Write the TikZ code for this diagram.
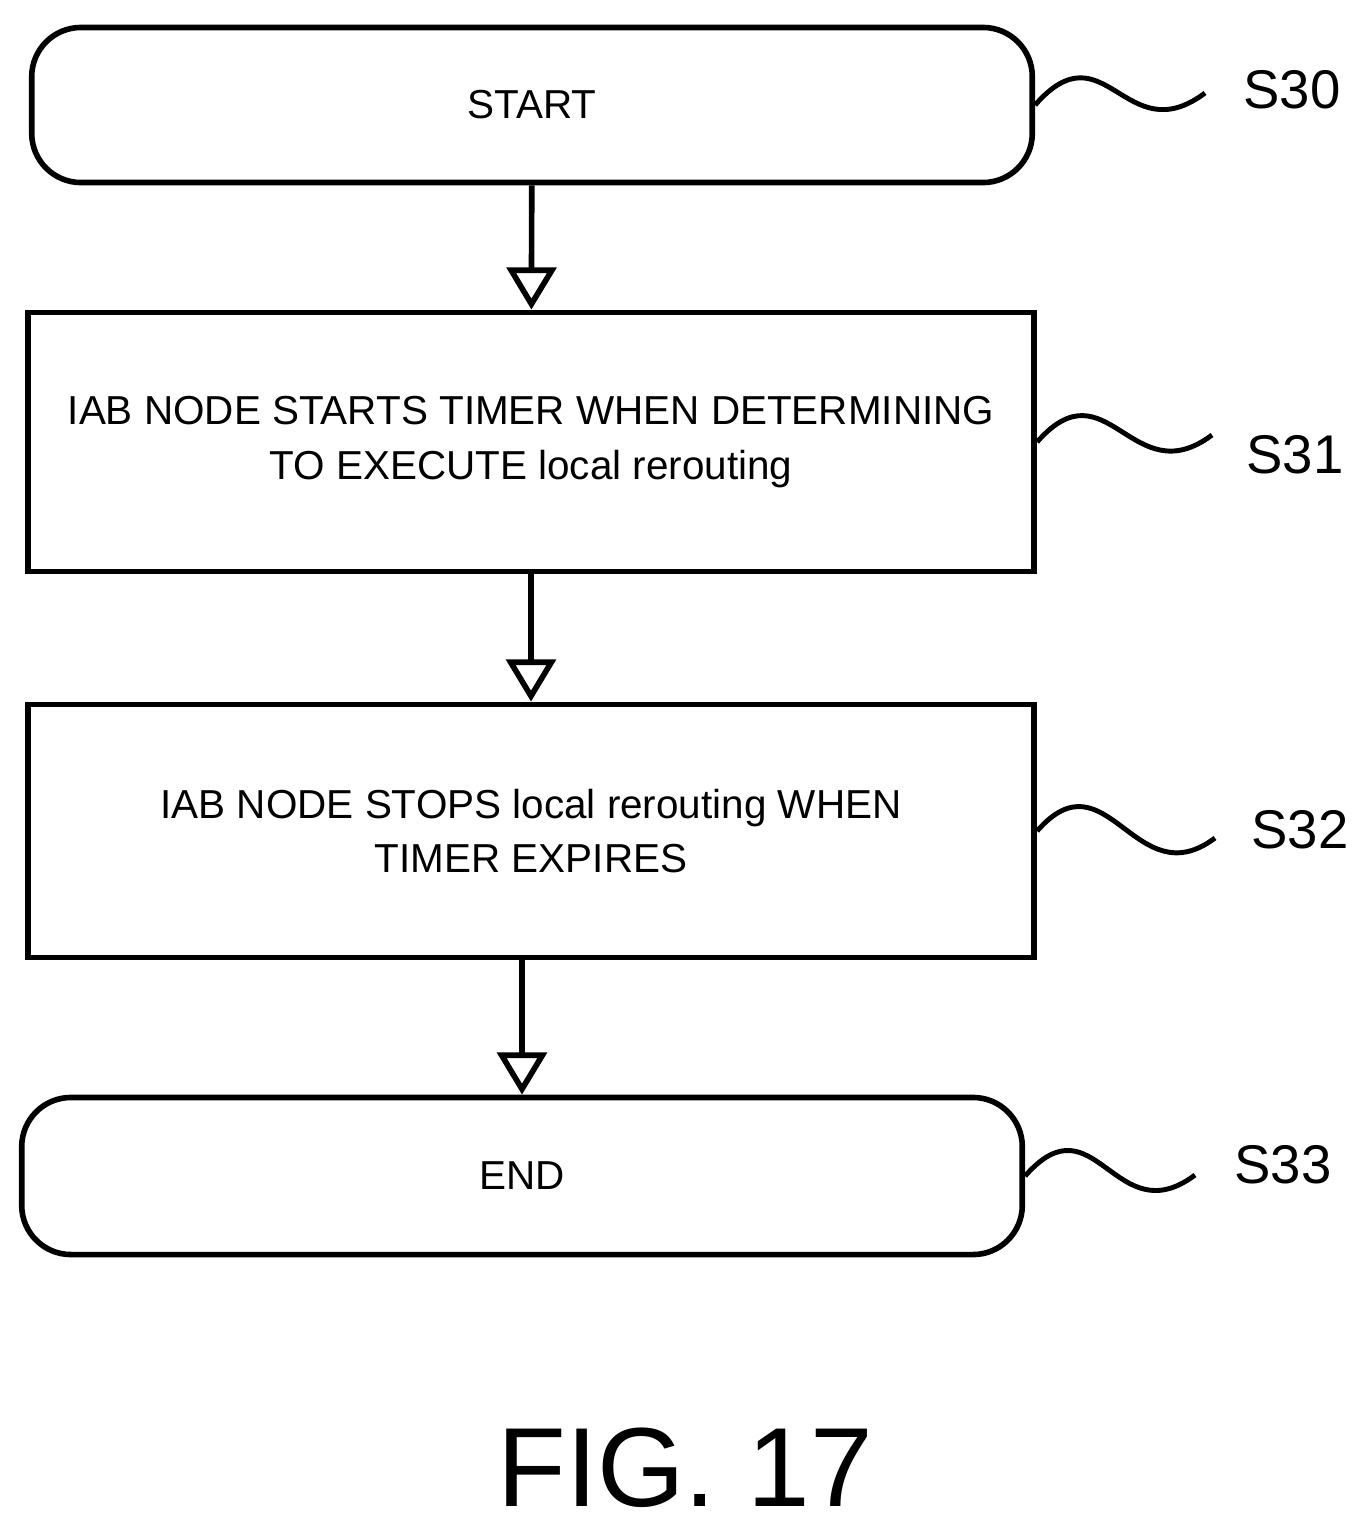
\documentclass[tikz,border=0pt]{standalone}
\usepackage{fontspec}
\setmainfont{Liberation Sans}
\usetikzlibrary{arrows.meta}
\begin{document}
\begin{tikzpicture}[x=0.01cm,y=-0.01cm,
    stepbox/.style={draw, line width=1.6pt, minimum width=10cm, inner sep=2pt, align=center, font=\fontsize{11.5}{15.6}\selectfont},
    flow/.style={draw, line width=1.6pt, -{Triangle[open,length=12pt,width=14pt]}},
    squiggle/.style={line width=1.4pt},
    steplabel/.style={font=\fontsize{15.5}{18}\selectfont}]
\useasboundingbox (0,0) rectangle (1370,1536);

        % Start and end boxes
        \node[stepbox, rounded corners=14pt, minimum height=1.55cm] (start) at (532,105) {START};
        \node[stepbox, rounded corners=14pt, minimum height=1.57cm] (end) at (522,1176) {END};

        % Process boxes
        \node[stepbox, minimum width=10.06cm, minimum height=2.59cm] (timer) at (531,442) {IAB NODE STARTS TIMER WHEN DETERMINING\\TO EXECUTE local rerouting};
        \node[stepbox, minimum width=10.06cm, minimum height=2.53cm] (stop) at (531,831) {IAB NODE STOPS local rerouting WHEN\\TIMER EXPIRES};

        % Arrows
        \draw[flow] (start) -- (timer);
        \draw[flow] (timer) -- (stop);
        \draw[flow] (stop.south -| end) -- (end);

        % Step labels
        \node[steplabel] (s30) at (1292,90) {S30};
        \node[steplabel] (s31) at (1295,455) {S31};
        \node[steplabel] (s32) at (1300,830) {S32};
        \node[steplabel] (s33) at (1283,1165) {S33};
        \draw[squiggle] (start.east) .. controls +(70,-80) and +(-80,60) .. (1205,93);
        \draw[squiggle] (timer.east) .. controls +(70,-80) and +(-80,60) .. (1212,435);
        \draw[squiggle] (stop.east) .. controls +(70,-80) and +(-80,60) .. (1215,838);
        \draw[squiggle] (end.east) .. controls +(70,-80) and +(-80,60) .. (1195,1175);

        % Figure title
        \node[font=\fontsize{32}{36}\selectfont] (fig) at (685,1468) {FIG. 17};

\end{tikzpicture}
\end{document}
